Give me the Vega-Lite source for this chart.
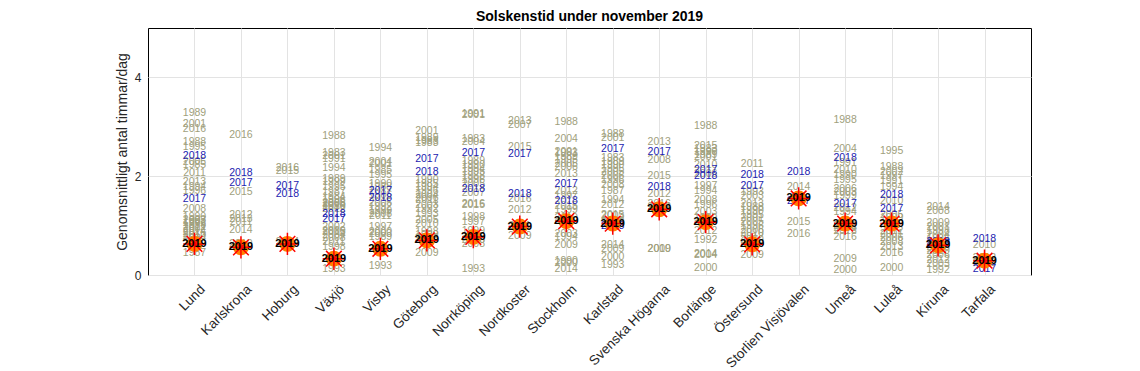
{
  "$schema": "https://vega.github.io/schema/vega-lite/v6.json",
  "width": 883,
  "height": 247,
  "autosize": "none",
  "padding": {"left": 148, "top": 28, "right": 109, "bottom": 96},
  "background": "white",
  "title": {"text": "Solskenstid under november 2019", "fontSize": 14, "font": "Liberation Sans", "fontWeight": "bold", "color": "black", "anchor": "middle", "offset": 4},
  "config": {
    "font": "Liberation Sans",
    "view": {"stroke": "black", "strokeWidth": 1},
    "axis": {"domainColor": "black", "gridColor": "#e3e3e3", "gridWidth": 1, "ticks": false, "labelColor": "#262626", "labelFont": "Liberation Sans", "titleFont": "Liberation Sans"}
  },
  "data": {"values": [
    {"s":"Lund","y":"1989","v":3.27,"g":"h"},{"s":"Lund","y":"2001","v":3.05,"g":"h"},{"s":"Lund","y":"2016","v":2.95,"g":"h"},{"s":"Lund","y":"1988","v":2.69,"g":"h"},{"s":"Lund","y":"1995","v":2.59,"g":"h"},{"s":"Lund","y":"2005","v":2.29,"g":"h"},{"s":"Lund","y":"1985","v":2.22,"g":"h"},{"s":"Lund","y":"2011","v":2.06,"g":"h"},{"s":"Lund","y":"2013","v":1.88,"g":"h"},{"s":"Lund","y":"1994","v":1.78,"g":"h"},{"s":"Lund","y":"1996","v":1.71,"g":"h"},{"s":"Lund","y":"2008","v":1.34,"g":"h"},{"s":"Lund","y":"1990","v":1.17,"g":"h"},{"s":"Lund","y":"2003","v":1.12,"g":"h"},{"s":"Lund","y":"1997","v":1.09,"g":"h"},{"s":"Lund","y":"1992","v":1.05,"g":"h"},{"s":"Lund","y":"1999","v":1.02,"g":"h"},{"s":"Lund","y":"2012","v":0.98,"g":"h"},{"s":"Lund","y":"2002","v":0.94,"g":"h"},{"s":"Lund","y":"2014","v":0.88,"g":"h"},{"s":"Lund","y":"2015","v":0.84,"g":"h"},{"s":"Lund","y":"2010","v":0.78,"g":"h"},{"s":"Lund","y":"2004","v":0.74,"g":"h"},{"s":"Lund","y":"1987","v":0.45,"g":"h"},
    {"s":"Lund","y":"2018","v":2.40,"g":"r"},{"s":"Lund","y":"2017","v":1.53,"g":"r"},{"s":"Lund","y":"2019","v":0.63,"g":"c"},
    {"s":"Karlskrona","y":"2016","v":2.84,"g":"h"},{"s":"Karlskrona","y":"2015","v":1.68,"g":"h"},{"s":"Karlskrona","y":"2012","v":1.21,"g":"h"},{"s":"Karlskrona","y":"2013","v":1.13,"g":"h"},{"s":"Karlskrona","y":"2011","v":1.07,"g":"h"},{"s":"Karlskrona","y":"2014","v":0.92,"g":"h"},{"s":"Karlskrona","y":"2010","v":0.62,"g":"h"},
    {"s":"Karlskrona","y":"2018","v":2.06,"g":"r"},{"s":"Karlskrona","y":"2017","v":1.86,"g":"r"},{"s":"Karlskrona","y":"2019","v":0.56,"g":"c"},
    {"s":"Hoburg","y":"2016","v":2.17,"g":"h"},{"s":"Hoburg","y":"2015","v":2.10,"g":"h"},{"s":"Hoburg","y":"2014","v":0.67,"g":"h"},
    {"s":"Hoburg","y":"2017","v":1.80,"g":"r"},{"s":"Hoburg","y":"2018","v":1.63,"g":"r"},{"s":"Hoburg","y":"2019","v":0.63,"g":"c"},
    {"s":"Växjö","y":"1988","v":2.81,"g":"h"},{"s":"Växjö","y":"1983","v":2.47,"g":"h"},{"s":"Växjö","y":"2001","v":2.40,"g":"h"},{"s":"Växjö","y":"1991","v":2.34,"g":"h"},{"s":"Växjö","y":"1994","v":2.17,"g":"h"},{"s":"Växjö","y":"1989","v":1.94,"g":"h"},{"s":"Växjö","y":"1999","v":1.88,"g":"h"},{"s":"Växjö","y":"1995","v":1.78,"g":"h"},{"s":"Växjö","y":"1987","v":1.68,"g":"h"},{"s":"Växjö","y":"1984","v":1.58,"g":"h"},{"s":"Växjö","y":"1996","v":1.52,"g":"h"},{"s":"Växjö","y":"2005","v":1.46,"g":"h"},{"s":"Växjö","y":"2006","v":1.43,"g":"h"},{"s":"Växjö","y":"2010","v":1.40,"g":"h"},{"s":"Växjö","y":"1986","v":1.37,"g":"h"},{"s":"Växjö","y":"2012","v":1.34,"g":"h"},{"s":"Växjö","y":"2002","v":0.97,"g":"h"},{"s":"Växjö","y":"2000","v":0.90,"g":"h"},{"s":"Växjö","y":"2015","v":0.87,"g":"h"},{"s":"Växjö","y":"2004","v":0.80,"g":"h"},{"s":"Växjö","y":"2008","v":0.74,"g":"h"},{"s":"Växjö","y":"2011","v":0.67,"g":"h"},{"s":"Växjö","y":"1998","v":0.56,"g":"h"},{"s":"Växjö","y":"1993","v":0.13,"g":"h"},
    {"s":"Växjö","y":"2018","v":1.23,"g":"r"},{"s":"Växjö","y":"2017","v":1.14,"g":"r"},{"s":"Växjö","y":"2019","v":0.33,"g":"c"},
    {"s":"Visby","y":"1994","v":2.58,"g":"h"},{"s":"Visby","y":"2004","v":2.29,"g":"h"},{"s":"Visby","y":"2001","v":2.24,"g":"h"},{"s":"Visby","y":"1985","v":2.12,"g":"h"},{"s":"Visby","y":"1995","v":2.02,"g":"h"},{"s":"Visby","y":"1990","v":1.85,"g":"h"},{"s":"Visby","y":"1988","v":1.78,"g":"h"},{"s":"Visby","y":"1986","v":1.62,"g":"h"},{"s":"Visby","y":"2005","v":1.45,"g":"h"},{"s":"Visby","y":"1992","v":1.38,"g":"h"},{"s":"Visby","y":"1999","v":1.30,"g":"h"},{"s":"Visby","y":"2008","v":1.24,"g":"h"},{"s":"Visby","y":"2011","v":1.20,"g":"h"},{"s":"Visby","y":"1997","v":0.98,"g":"h"},{"s":"Visby","y":"2000","v":0.87,"g":"h"},{"s":"Visby","y":"2003","v":0.82,"g":"h"},{"s":"Visby","y":"1989","v":0.77,"g":"h"},{"s":"Visby","y":"1993","v":0.18,"g":"h"},
    {"s":"Visby","y":"2017","v":1.70,"g":"r"},{"s":"Visby","y":"2018","v":1.55,"g":"r"},{"s":"Visby","y":"2019","v":0.53,"g":"c"},
    {"s":"Göteborg","y":"2001","v":2.91,"g":"h"},{"s":"Göteborg","y":"1989","v":2.78,"g":"h"},{"s":"Göteborg","y":"1988","v":2.72,"g":"h"},{"s":"Göteborg","y":"1983","v":2.68,"g":"h"},{"s":"Göteborg","y":"1990","v":1.92,"g":"h"},{"s":"Göteborg","y":"1985","v":1.85,"g":"h"},{"s":"Göteborg","y":"1994","v":1.78,"g":"h"},{"s":"Göteborg","y":"1996","v":1.70,"g":"h"},{"s":"Göteborg","y":"2004","v":1.62,"g":"h"},{"s":"Göteborg","y":"2006","v":1.55,"g":"h"},{"s":"Göteborg","y":"2011","v":1.51,"g":"h"},{"s":"Göteborg","y":"2003","v":1.42,"g":"h"},{"s":"Göteborg","y":"1992","v":1.34,"g":"h"},{"s":"Göteborg","y":"1993","v":1.24,"g":"h"},{"s":"Göteborg","y":"2005","v":1.11,"g":"h"},{"s":"Göteborg","y":"2010","v":1.04,"g":"h"},{"s":"Göteborg","y":"1998","v":0.87,"g":"h"},{"s":"Göteborg","y":"1999","v":0.80,"g":"h"},{"s":"Göteborg","y":"2015","v":0.74,"g":"h"},{"s":"Göteborg","y":"2009","v":0.44,"g":"h"},
    {"s":"Göteborg","y":"2017","v":2.34,"g":"r"},{"s":"Göteborg","y":"2018","v":2.09,"g":"r"},{"s":"Göteborg","y":"2019","v":0.70,"g":"c"},
    {"s":"Norrköping","y":"1991","v":3.26,"g":"h"},{"s":"Norrköping","y":"2001","v":3.24,"g":"h"},{"s":"Norrköping","y":"1983","v":2.76,"g":"h"},{"s":"Norrköping","y":"2004","v":2.69,"g":"h"},{"s":"Norrköping","y":"1989","v":2.30,"g":"h"},{"s":"Norrköping","y":"1990","v":2.22,"g":"h"},{"s":"Norrköping","y":"1994","v":2.15,"g":"h"},{"s":"Norrköping","y":"1995","v":2.08,"g":"h"},{"s":"Norrköping","y":"1988","v":2.00,"g":"h"},{"s":"Norrköping","y":"1996","v":1.92,"g":"h"},{"s":"Norrköping","y":"2005","v":1.85,"g":"h"},{"s":"Norrköping","y":"2007","v":1.65,"g":"h"},{"s":"Norrköping","y":"2016","v":1.44,"g":"h"},{"s":"Norrköping","y":"2015","v":1.42,"g":"h"},{"s":"Norrköping","y":"1998","v":1.17,"g":"h"},{"s":"Norrköping","y":"1997","v":1.07,"g":"h"},{"s":"Norrköping","y":"1999","v":0.90,"g":"h"},{"s":"Norrköping","y":"2010","v":0.70,"g":"h"},{"s":"Norrköping","y":"2008","v":0.63,"g":"h"},{"s":"Norrköping","y":"1993","v":0.13,"g":"h"},
    {"s":"Norrköping","y":"2017","v":2.46,"g":"r"},{"s":"Norrköping","y":"2018","v":1.75,"g":"r"},{"s":"Norrköping","y":"2019","v":0.77,"g":"c"},
    {"s":"Nordkoster","y":"2013","v":3.11,"g":"h"},{"s":"Nordkoster","y":"2007","v":3.03,"g":"h"},{"s":"Nordkoster","y":"2015","v":2.59,"g":"h"},{"s":"Nordkoster","y":"2016","v":1.53,"g":"h"},{"s":"Nordkoster","y":"2012","v":1.31,"g":"h"},{"s":"Nordkoster","y":"2011","v":1.00,"g":"h"},{"s":"Nordkoster","y":"2009","v":0.79,"g":"h"},
    {"s":"Nordkoster","y":"2017","v":2.44,"g":"r"},{"s":"Nordkoster","y":"2018","v":1.63,"g":"r"},{"s":"Nordkoster","y":"2019","v":0.98,"g":"c"},
    {"s":"Stockholm","y":"1988","v":3.09,"g":"h"},{"s":"Stockholm","y":"2004","v":2.76,"g":"h"},{"s":"Stockholm","y":"2001","v":2.50,"g":"h"},{"s":"Stockholm","y":"1983","v":2.46,"g":"h"},{"s":"Stockholm","y":"1989","v":2.39,"g":"h"},{"s":"Stockholm","y":"1995","v":2.32,"g":"h"},{"s":"Stockholm","y":"2005","v":2.25,"g":"h"},{"s":"Stockholm","y":"2006","v":2.18,"g":"h"},{"s":"Stockholm","y":"2013","v":2.05,"g":"h"},{"s":"Stockholm","y":"2012","v":1.71,"g":"h"},{"s":"Stockholm","y":"1997","v":1.60,"g":"h"},{"s":"Stockholm","y":"2015","v":1.40,"g":"h"},{"s":"Stockholm","y":"1999","v":1.31,"g":"h"},{"s":"Stockholm","y":"2010","v":1.15,"g":"h"},{"s":"Stockholm","y":"2003","v":0.84,"g":"h"},{"s":"Stockholm","y":"1994","v":0.77,"g":"h"},{"s":"Stockholm","y":"2009","v":0.60,"g":"h"},{"s":"Stockholm","y":"1990","v":0.29,"g":"h"},{"s":"Stockholm","y":"2000","v":0.25,"g":"h"},{"s":"Stockholm","y":"2014","v":0.13,"g":"h"},
    {"s":"Stockholm","y":"2017","v":1.84,"g":"r"},{"s":"Stockholm","y":"2018","v":1.49,"g":"r"},{"s":"Stockholm","y":"2019","v":1.09,"g":"c"},
    {"s":"Karlstad","y":"1988","v":2.86,"g":"h"},{"s":"Karlstad","y":"2001","v":2.78,"g":"h"},{"s":"Karlstad","y":"1983","v":2.37,"g":"h"},{"s":"Karlstad","y":"1989","v":2.29,"g":"h"},{"s":"Karlstad","y":"1990","v":2.22,"g":"h"},{"s":"Karlstad","y":"1995","v":2.15,"g":"h"},{"s":"Karlstad","y":"2005","v":2.08,"g":"h"},{"s":"Karlstad","y":"2006","v":2.00,"g":"h"},{"s":"Karlstad","y":"1996","v":1.92,"g":"h"},{"s":"Karlstad","y":"2008","v":1.82,"g":"h"},{"s":"Karlstad","y":"1987","v":1.71,"g":"h"},{"s":"Karlstad","y":"1994","v":1.51,"g":"h"},{"s":"Karlstad","y":"2012","v":1.41,"g":"h"},{"s":"Karlstad","y":"2015","v":1.21,"g":"h"},{"s":"Karlstad","y":"2003","v":1.20,"g":"h"},{"s":"Karlstad","y":"1999","v":1.10,"g":"h"},{"s":"Karlstad","y":"2014","v":0.60,"g":"h"},{"s":"Karlstad","y":"2009","v":0.53,"g":"h"},{"s":"Karlstad","y":"2000","v":0.36,"g":"h"},{"s":"Karlstad","y":"1993","v":0.21,"g":"h"},
    {"s":"Karlstad","y":"2017","v":2.55,"g":"r"},{"s":"Karlstad","y":"2018","v":1.00,"g":"r"},{"s":"Karlstad","y":"2019","v":1.04,"g":"c"},
    {"s":"Svenska Högarna","y":"2013","v":2.69,"g":"h"},{"s":"Svenska Högarna","y":"2008","v":2.32,"g":"h"},{"s":"Svenska Högarna","y":"2015","v":2.00,"g":"h"},{"s":"Svenska Högarna","y":"2012","v":1.63,"g":"h"},{"s":"Svenska Högarna","y":"2016","v":1.44,"g":"h"},{"s":"Svenska Högarna","y":"2014","v":1.38,"g":"h"},{"s":"Svenska Högarna","y":"2009","v":0.53,"g":"h"},{"s":"Svenska Högarna","y":"2010","v":0.53,"g":"h"},
    {"s":"Svenska Högarna","y":"2017","v":2.48,"g":"r"},{"s":"Svenska Högarna","y":"2018","v":1.78,"g":"r"},{"s":"Svenska Högarna","y":"2019","v":1.33,"g":"c"},
    {"s":"Borlänge","y":"1988","v":3.02,"g":"h"},{"s":"Borlänge","y":"2015","v":2.61,"g":"h"},{"s":"Borlänge","y":"1983","v":2.56,"g":"h"},{"s":"Borlänge","y":"1990","v":2.49,"g":"h"},{"s":"Borlänge","y":"1989","v":2.42,"g":"h"},{"s":"Borlänge","y":"2001","v":2.38,"g":"h"},{"s":"Borlänge","y":"2010","v":2.22,"g":"h"},{"s":"Borlänge","y":"2006","v":2.05,"g":"h"},{"s":"Borlänge","y":"1997","v":1.80,"g":"h"},{"s":"Borlänge","y":"1994","v":1.71,"g":"h"},{"s":"Borlänge","y":"2008","v":1.51,"g":"h"},{"s":"Borlänge","y":"1996","v":1.41,"g":"h"},{"s":"Borlänge","y":"2003","v":1.27,"g":"h"},{"s":"Borlänge","y":"1999","v":1.15,"g":"h"},{"s":"Borlänge","y":"2012","v":0.90,"g":"h"},{"s":"Borlänge","y":"1992","v":0.70,"g":"h"},{"s":"Borlänge","y":"2014","v":0.43,"g":"h"},{"s":"Borlänge","y":"2004","v":0.41,"g":"h"},{"s":"Borlänge","y":"2000","v":0.14,"g":"h"},
    {"s":"Borlänge","y":"2017","v":2.12,"g":"r"},{"s":"Borlänge","y":"2018","v":2.00,"g":"r"},{"s":"Borlänge","y":"2019","v":1.07,"g":"c"},
    {"s":"Östersund","y":"2011","v":2.24,"g":"h"},{"s":"Östersund","y":"1993","v":1.68,"g":"h"},{"s":"Östersund","y":"2003","v":1.59,"g":"h"},{"s":"Östersund","y":"2013","v":1.44,"g":"h"},{"s":"Östersund","y":"1988","v":1.38,"g":"h"},{"s":"Östersund","y":"1990","v":1.30,"g":"h"},{"s":"Östersund","y":"1995","v":1.22,"g":"h"},{"s":"Östersund","y":"2001","v":1.15,"g":"h"},{"s":"Östersund","y":"2005","v":1.07,"g":"h"},{"s":"Östersund","y":"1996","v":0.99,"g":"h"},{"s":"Östersund","y":"2006","v":0.92,"g":"h"},{"s":"Östersund","y":"2010","v":0.85,"g":"h"},{"s":"Östersund","y":"2012","v":0.77,"g":"h"},{"s":"Östersund","y":"2000","v":0.70,"g":"h"},{"s":"Östersund","y":"2009","v":0.40,"g":"h"},
    {"s":"Östersund","y":"2018","v":2.02,"g":"r"},{"s":"Östersund","y":"2017","v":1.80,"g":"r"},{"s":"Östersund","y":"2019","v":0.62,"g":"c"},
    {"s":"Storlien Visjövalen","y":"2014","v":1.78,"g":"h"},{"s":"Storlien Visjövalen","y":"2015","v":1.07,"g":"h"},{"s":"Storlien Visjövalen","y":"2016","v":0.84,"g":"h"},
    {"s":"Storlien Visjövalen","y":"2018","v":2.09,"g":"r"},{"s":"Storlien Visjövalen","y":"2017","v":1.50,"g":"r"},{"s":"Storlien Visjövalen","y":"2019","v":1.55,"g":"c"},
    {"s":"Umeå","y":"1988","v":3.13,"g":"h"},{"s":"Umeå","y":"2004","v":2.55,"g":"h"},{"s":"Umeå","y":"1991","v":2.27,"g":"h"},{"s":"Umeå","y":"2010","v":2.12,"g":"h"},{"s":"Umeå","y":"1990","v":2.02,"g":"h"},{"s":"Umeå","y":"1995","v":1.92,"g":"h"},{"s":"Umeå","y":"2006","v":1.75,"g":"h"},{"s":"Umeå","y":"2003","v":1.68,"g":"h"},{"s":"Umeå","y":"1999","v":1.59,"g":"h"},{"s":"Umeå","y":"2012","v":1.35,"g":"h"},{"s":"Umeå","y":"1994","v":1.27,"g":"h"},{"s":"Umeå","y":"2001","v":1.00,"g":"h"},{"s":"Umeå","y":"2008","v":0.95,"g":"h"},{"s":"Umeå","y":"2013","v":0.90,"g":"h"},{"s":"Umeå","y":"2016","v":0.77,"g":"h"},{"s":"Umeå","y":"2009","v":0.33,"g":"h"},{"s":"Umeå","y":"2000","v":0.10,"g":"h"},
    {"s":"Umeå","y":"2018","v":2.36,"g":"r"},{"s":"Umeå","y":"2017","v":1.43,"g":"r"},{"s":"Umeå","y":"2019","v":1.04,"g":"c"},
    {"s":"Luleå","y":"1995","v":2.51,"g":"h"},{"s":"Luleå","y":"1988","v":2.19,"g":"h"},{"s":"Luleå","y":"2002","v":2.09,"g":"h"},{"s":"Luleå","y":"1997","v":2.00,"g":"h"},{"s":"Luleå","y":"1991","v":1.90,"g":"h"},{"s":"Luleå","y":"1994","v":1.78,"g":"h"},{"s":"Luleå","y":"2010","v":1.49,"g":"h"},{"s":"Luleå","y":"2005","v":1.21,"g":"h"},{"s":"Luleå","y":"1999","v":1.15,"g":"h"},{"s":"Luleå","y":"2012","v":0.90,"g":"h"},{"s":"Luleå","y":"2001","v":0.82,"g":"h"},{"s":"Luleå","y":"2006","v":0.74,"g":"h"},{"s":"Luleå","y":"2008","v":0.66,"g":"h"},{"s":"Luleå","y":"2013","v":0.56,"g":"h"},{"s":"Luleå","y":"2016","v":0.44,"g":"h"},{"s":"Luleå","y":"2000","v":0.15,"g":"h"},
    {"s":"Luleå","y":"2018","v":1.61,"g":"r"},{"s":"Luleå","y":"2017","v":1.33,"g":"r"},{"s":"Luleå","y":"2019","v":1.04,"g":"c"},
    {"s":"Kiruna","y":"2014","v":1.38,"g":"h"},{"s":"Kiruna","y":"2008","v":1.29,"g":"h"},{"s":"Kiruna","y":"2009","v":1.05,"g":"h"},{"s":"Kiruna","y":"2001","v":0.97,"g":"h"},{"s":"Kiruna","y":"1998","v":0.89,"g":"h"},{"s":"Kiruna","y":"2004","v":0.81,"g":"h"},{"s":"Kiruna","y":"1995","v":0.72,"g":"h"},{"s":"Kiruna","y":"1999","v":0.64,"g":"h"},{"s":"Kiruna","y":"2005","v":0.56,"g":"h"},{"s":"Kiruna","y":"2010","v":0.48,"g":"h"},{"s":"Kiruna","y":"2006","v":0.40,"g":"h"},{"s":"Kiruna","y":"2012","v":0.30,"g":"h"},{"s":"Kiruna","y":"2003","v":0.23,"g":"h"},{"s":"Kiruna","y":"1992","v":0.11,"g":"h"},
    {"s":"Kiruna","y":"2018","v":0.67,"g":"r"},{"s":"Kiruna","y":"2017","v":0.62,"g":"r"},{"s":"Kiruna","y":"2019","v":0.60,"g":"c"},
    {"s":"Tarfala","y":"2010","v":0.60,"g":"h"},{"s":"Tarfala","y":"2012","v":0.35,"g":"h"},{"s":"Tarfala","y":"2013","v":0.25,"g":"h"},
    {"s":"Tarfala","y":"2018","v":0.72,"g":"r"},{"s":"Tarfala","y":"2017","v":0.13,"g":"r"},{"s":"Tarfala","y":"2019","v":0.29,"g":"c"}
  ]},
  "encoding": {
    "x": {"field": "s", "type": "nominal", "sort": ["Lund","Karlskrona","Hoburg","Växjö","Visby","Göteborg","Norrköping","Nordkoster","Stockholm","Karlstad","Svenska Högarna","Borlänge","Östersund","Storlien Visjövalen","Umeå","Luleå","Kiruna","Tarfala"],
      "scale": {"type": "point", "padding": 1},
      "axis": {"title": null, "labelAngle": -45, "labelFontSize": 13.5, "labelPadding": 7, "labelOffset": 3, "grid": true, "domain": false}},
    "y": {"field": "v", "type": "quantitative", "scale": {"domain": [0, 5], "nice": false},
      "axis": {"title": "Genomsnittligt antal timmar/dag", "titleFontSize": 14, "titleFontWeight": "normal", "titleColor": "#262626", "titlePadding": 5, "values": [0, 2, 4], "labelFontSize": 12, "labelPadding": 7, "grid": true, "domain": false}}
  },
  "layer": [
    {"transform": [{"filter": "datum.g == 'h'"}], "mark": {"type": "text", "fontSize": 10.5, "color": "#a0a07c", "font": "Liberation Sans"}, "encoding": {"text": {"field": "y"}}},
    {"transform": [{"filter": "datum.g == 'r'"}], "mark": {"type": "text", "fontSize": 10.5, "color": "#1c1cb0", "font": "Liberation Sans"}, "encoding": {"text": {"field": "y"}}},
    {"transform": [{"filter": "datum.g == 'c'"}], "mark": {"type": "point", "shape": "circle", "filled": true, "color": "#ff8000", "opacity": 1, "size": 256}},
    {"transform": [{"filter": "datum.g == 'c'"}], "mark": {"type": "point", "shape": "M-1,0L1,0M0,-1L0,1M-0.7,-0.7L0.7,0.7M-0.7,0.7L0.7,-0.7", "filled": false, "stroke": "#ff0000", "strokeWidth": 1.5, "opacity": 1, "size": 500}},
    {"transform": [{"filter": "datum.g == 'c'"}], "mark": {"type": "text", "fontSize": 11, "fontWeight": "bold", "color": "black", "font": "Liberation Sans"}, "encoding": {"text": {"field": "y"}}}
  ]
}
